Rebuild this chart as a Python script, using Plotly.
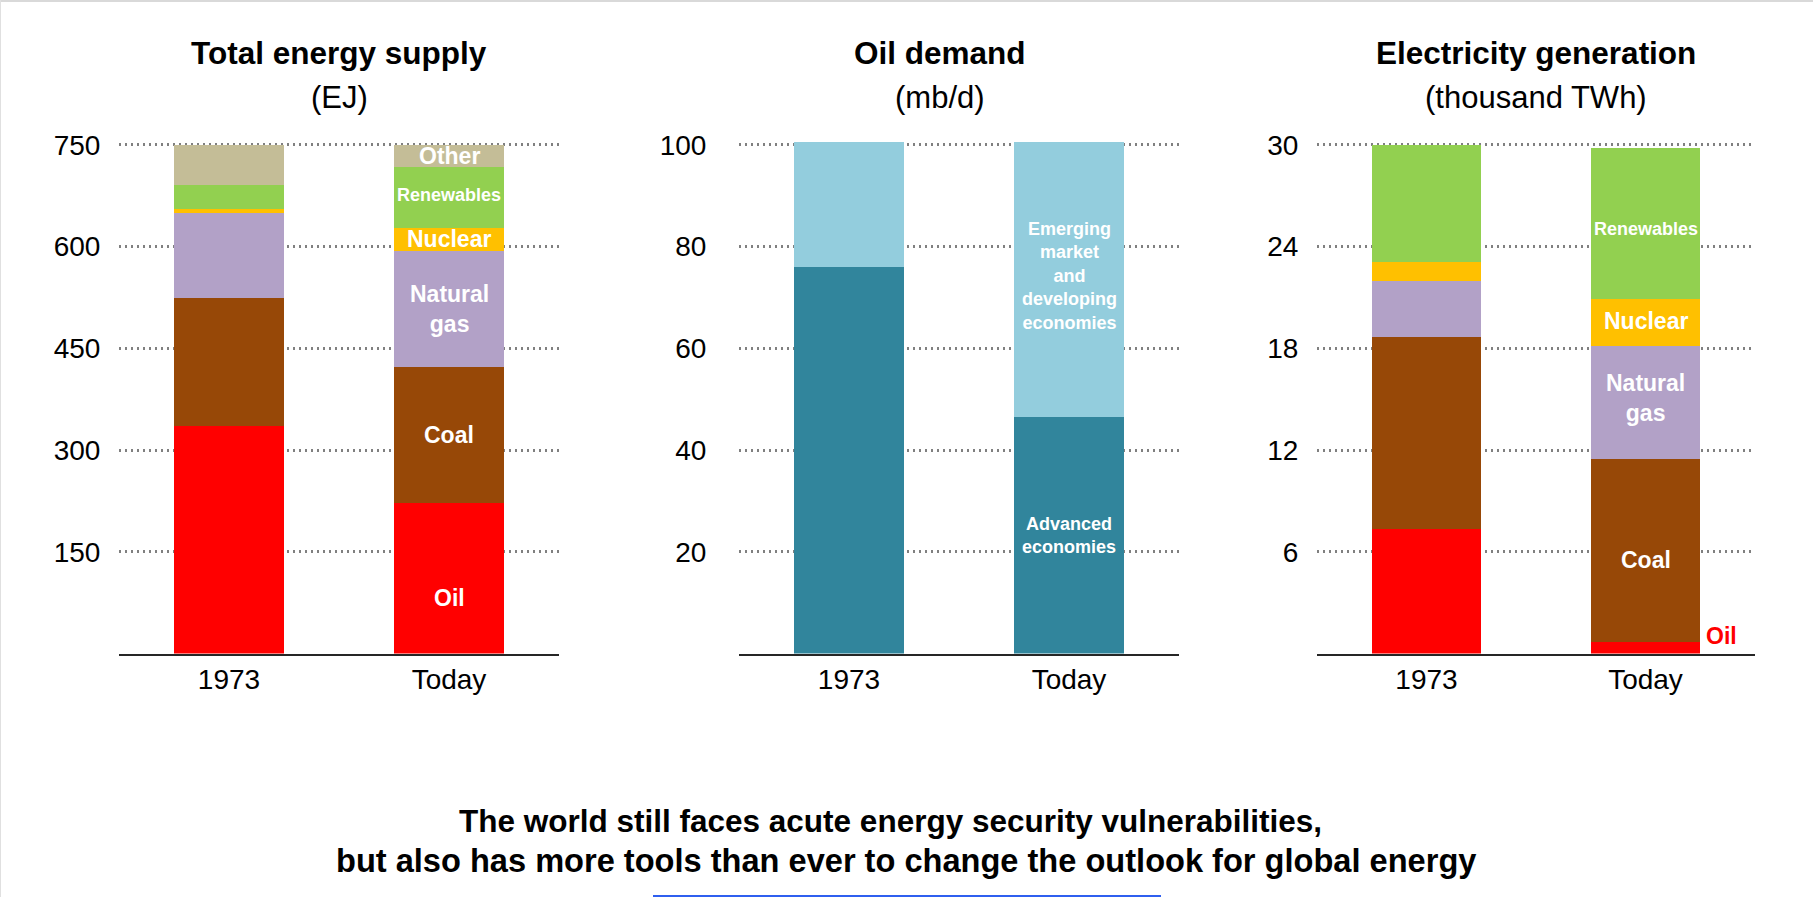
import plotly.graph_objects as go

# ---------------- data ----------------
categories = ["1973", "Today"]

# Total energy supply (EJ)
tes_oil = [336, 222]
tes_coal = [189, 201]
tes_gas = [125, 171]
tes_nuclear = [5, 34]
tes_renewables = [36, 90]
tes_other = [59, 32]

# Oil demand (mb/d)
oil_advanced = [76, 46.5]
oil_emde = [24.5, 54]

# Electricity generation (thousand TWh)
elec_oil = [7.35, 0.7]
elec_coal = [11.3, 10.77]
elec_gas = [3.3, 6.66]
elec_nuclear = [1.12, 2.77]
elec_renewables = [6.9, 8.92]

tes_ticks = [150, 300, 450, 600, 750]
oil_ticks = [20, 40, 60, 80, 100]
elec_ticks = [6, 12, 18, 24, 30]

titles = ["Total energy supply", "Oil demand", "Electricity generation"]
units = ["(EJ)", "(mb/d)", "(thousand TWh)"]
footer = ["The world still faces acute energy security vulnerabilities,",
          "but also has more tools than ever to change the outlook for global energy"]

# ---------------- style ----------------
FONT = "Liberation Sans, Arial, Helvetica, sans-serif"
C_OIL = "#FF0000"
C_COAL = "#974807"
C_GAS = "#B2A1C7"
C_NUC = "#FFC000"
C_REN = "#92D050"
C_OTH = "#C4BD97"
C_ADV = "#31859C"
C_EMDE = "#93CDDD"

W, H = 1813, 897


def px_x(p):
    return p / W


def px_y(p):
    return 1 - p / H


fig = go.Figure()


def add_stack(series, colors, names, xa, ya):
    for vals, col, name in zip(series, colors, names):
        fig.add_trace(go.Bar(
            x=categories, y=vals, name=name, xaxis=xa, yaxis=ya,
            marker=dict(color=col, line=dict(width=0)), showlegend=False,
        ))


add_stack([tes_oil, tes_coal, tes_gas, tes_nuclear, tes_renewables, tes_other],
          [C_OIL, C_COAL, C_GAS, C_NUC, C_REN, C_OTH],
          ["Oil", "Coal", "Natural gas", "Nuclear", "Renewables", "Other"], "x", "y")
add_stack([oil_advanced, oil_emde], [C_ADV, C_EMDE],
          ["Advanced economies", "Emerging market and developing economies"], "x2", "y2")
add_stack([elec_oil, elec_coal, elec_gas, elec_nuclear, elec_renewables],
          [C_OIL, C_COAL, C_GAS, C_NUC, C_REN],
          ["Oil", "Coal", "Natural gas", "Nuclear", "Renewables"], "x3", "y3")

annotations = []


def label_stack(series, labels, xref, yref, sizes, yshifts, colors=None, xshifts=None):
    base = 0
    for i, vals in enumerate(series):
        v = vals[1]
        mid = base + v / 2
        base += v
        if labels[i] is None:
            continue
        annotations.append(dict(
            x="Today", y=mid, xref=xref, yref=yref, text="<b>%s</b>" % labels[i],
            showarrow=False, font=dict(family=FONT, size=sizes[i],
                                       color=(colors[i] if colors else "white")),
            yshift=yshifts[i], xshift=(xshifts[i] if xshifts else 0),
            xanchor="center", yanchor="middle",
        ))


label_stack([tes_oil, tes_coal, tes_gas, tes_nuclear, tes_renewables, tes_other],
            ["Oil", "Coal", "Natural<br>gas", "Nuclear", "Renewables", "Other"],
            "x", "y", [23, 23, 23, 23, 18, 23], [-20, 0, 0, 0, 2, 0])
label_stack([oil_advanced, oil_emde],
            ["Advanced<br>economies", "Emerging<br>market<br>and<br>developing<br>economies"],
            "x2", "y2", [18, 18], [0, 4])
label_stack([elec_oil, elec_coal, elec_gas, elec_nuclear, elec_renewables],
            ["Oil", "Coal", "Natural<br>gas", "Nuclear", "Renewables"],
            "x3", "y3", [23, 23, 23, 23, 18], [12, -10, 5, 2, -5],
            colors=[C_OIL, "white", "white", "white", "white"],
            xshifts=[76, 0, 0, 0, 0])

# panel titles
title_x = [339, 940, 1536]
for tx, t, u in zip(title_x, titles, units):
    annotations.append(dict(x=px_x(tx), y=px_y(53), xref="paper", yref="paper",
                            text="<b>%s</b>" % t, showarrow=False,
                            font=dict(family=FONT, size=31.5, color="black"),
                            xanchor="center", yanchor="middle"))
    annotations.append(dict(x=px_x(tx), y=px_y(97), xref="paper", yref="paper",
                            text=u, showarrow=False,
                            font=dict(family=FONT, size=31, color="black"),
                            xanchor="center", yanchor="middle"))

# footer
for fx, fy, fs, t in zip([890, 906], [821, 860], [31.5, 32.6], footer):
    annotations.append(dict(x=px_x(fx), y=px_y(fy), xref="paper", yref="paper",
                            text="<b>%s</b>" % t, showarrow=False,
                            font=dict(family=FONT, size=fs, color="black"),
                            xanchor="center", yanchor="middle"))

Y_DOM = [px_y(653.5), px_y(129.7)]


def xaxis(dom):
    return dict(domain=[px_x(dom[0]), px_x(dom[1])], type="category",
                range=[-0.5, 1.5], showline=True, linecolor="#262626", linewidth=2,
                showgrid=False, zeroline=False, ticks="outside", ticklen=0,
                tickcolor="rgba(0,0,0,0)", tickfont=dict(family=FONT, size=28, color="black"),
                fixedrange=True)


def yaxis(rng, ticks, anchor, standoff):
    return dict(domain=Y_DOM, range=rng, anchor=anchor, tickvals=ticks,
                ticktext=[str(t) for t in ticks], showgrid=True, gridcolor="#808080",
                gridwidth=2.5, griddash="2px,4px", zeroline=False, showline=False,
                ticks="outside", ticklen=standoff, tickcolor="rgba(0,0,0,0)",
                tickfont=dict(family=FONT, size=28, color="black"), fixedrange=True)


fig.update_layout(
    width=W, height=H, autosize=False,
    margin=dict(l=0, r=0, t=0, b=0),
    paper_bgcolor="white", plot_bgcolor="white",
    barmode="stack", bargap=0.5,
    font=dict(family=FONT, color="black"),
    xaxis=dict(xaxis([119, 559]), anchor="y"),
    xaxis2=dict(xaxis([739, 1179]), anchor="y2"),
    xaxis3=dict(xaxis([1317, 1755]), anchor="y3"),
    yaxis=yaxis([0, 772.5], tes_ticks, "x", 12),
    yaxis2=yaxis([0, 103], oil_ticks, "x2", 26),
    yaxis3=yaxis([0, 30.9], elec_ticks, "x3", 12),
    annotations=annotations,
    shapes=[
        dict(type="line", xref="paper", yref="paper", x0=0, x1=1, y0=1, y1=1,
             line=dict(color="#d9d9d9", width=4)),
        dict(type="line", xref="paper", yref="paper", x0=0, x1=0, y0=0, y1=1,
             line=dict(color="#e0e0e0", width=2)),
        dict(type="line", xref="paper", yref="paper", x0=px_x(653), x1=px_x(1161),
             y0=px_y(896), y1=px_y(896), line=dict(color="#2F5FEF", width=2)),
    ],
    showlegend=False,
)

fig.write_html("out.html", config={"displayModeBar": False})
